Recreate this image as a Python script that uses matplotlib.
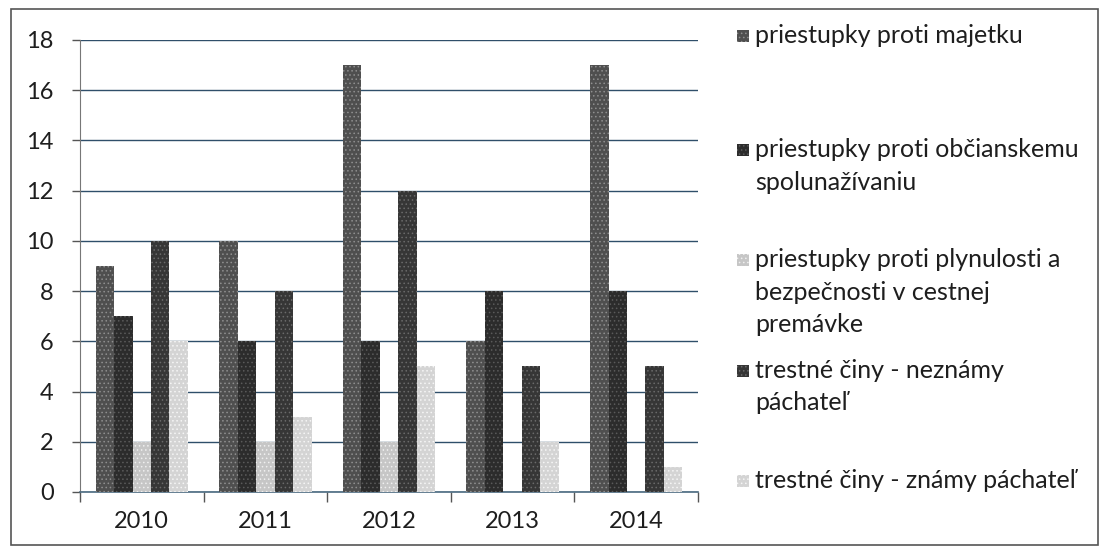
import matplotlib
matplotlib.use("Agg")
import matplotlib.pyplot as plt
import numpy as np
from matplotlib.patches import Rectangle

years = ["2010", "2011", "2012", "2013", "2014"]
majetok = [9, 10, 17, 6, 17]
obcianske = [7, 6, 6, 8, 8]
plynulost = [2, 2, 2, 0, 0]
neznamy = [10, 8, 12, 5, 5]
znamy = [6, 3, 5, 2, 1]

series = [majetok, obcianske, plynulost, neznamy, znamy]
labels = [["priestupky proti majetku"],
          ["priestupky proti občianskemu", "spolunažívaniu"],
          ["priestupky proti plynulosti a", "bezpečnosti v cestnej", "premávke"],
          ["trestné činy - neznámy", "páchateľ"],
          ["trestné činy - známy páchateľ"]]
colors = ["#4f4f4f", "#2c2c2c", "#c6c6c6", "#363636", "#d4d4d4"]
hatch_cols = ["#8f8f8f", "#5a5a5a", "#efefef", "#6a6a6a", "#f5f5f5"]

plt.rcParams['font.family'] = ['Lato', 'DejaVu Sans']
plt.rcParams['hatch.linewidth'] = 0.6

W, H = 1099, 553
fig = plt.figure(figsize=(W / 100, H / 100), dpi=100)
fig.patches.append(Rectangle((11 / W, 1 - 545 / H), (1098 - 11) / W, (545 - 9) / H,
                             transform=fig.transFigure, fill=False,
                             edgecolor="#555555", linewidth=1.2))

ax = fig.add_axes([80 / W, 1 - 492 / H, (698 - 80) / W, (492 - 40) / H])
x = np.arange(len(years))
bw = 1 / 6.7
for i, (vals, col, hc) in enumerate(zip(series, colors, hatch_cols)):
    ax.bar(x + (i - 2) * bw, vals, width=bw, color=col, edgecolor=hc,
           hatch="....", linewidth=0, zorder=3)

ax.set_xlim(-0.5, len(years) - 0.5)
ax.set_ylim(0, 18)
ax.set_yticks(np.arange(0, 19, 2))
ax.set_xticks(x)
ax.set_xticklabels(years)
ax.set_xticks(np.arange(-0.5, len(years), 1), minor=True)
ax.tick_params(axis='x', which='major', length=0, pad=14, labelsize=17, labelcolor="#1e1e1e")
ax.tick_params(axis='x', which='minor', length=7, width=1, color="#555555", direction='out')
ax.tick_params(axis='y', length=6, width=1, color="#555555", pad=13, labelsize=17,
               labelcolor="#1e1e1e")
ax.grid(axis='y', color="#2f4f6a", linewidth=1.0, zorder=0)
for s in ["top", "right"]:
    ax.spines[s].set_visible(False)
ax.spines["left"].set_color("#777777")
ax.spines["bottom"].set_color("#4a6a80")
ax.spines["bottom"].set_linewidth(1.2)

# legend (manual layout, baselines in pixels)
baselines = [[43], [157, 190], [267, 300, 332], [378, 410], [488]]
for lines, col, hc, bls in zip(labels, colors, hatch_cols, baselines):
    fig.patches.append(Rectangle((737 / W, 1 - (bls[0] - 1) / H), 12 / W, 12 / H,
                                 transform=fig.transFigure, facecolor=col,
                                 edgecolor=hc, hatch="....", linewidth=0))
    for ln, by in zip(lines, bls):
        fig.text(755 / W, 1 - by / H, ln, fontsize=18, color="#1e1e1e",
                 va='baseline', ha='left')

fig.savefig("out.png", dpi=100)
